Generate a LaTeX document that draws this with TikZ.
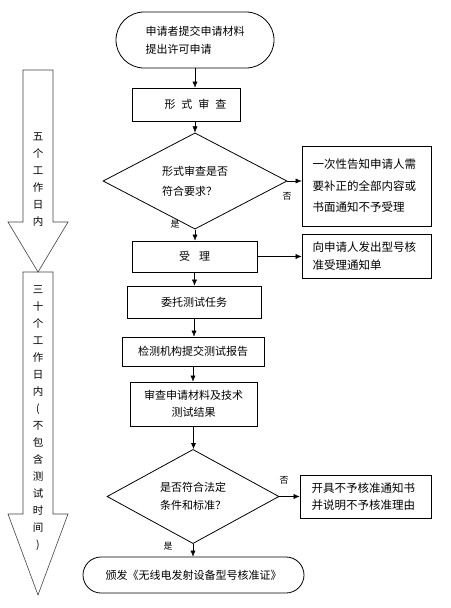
\documentclass[tikz,border=0pt]{standalone}
\usepackage{fontspec}
\setmainfont{Noto Sans CJK SC}
\usetikzlibrary{shapes.geometric,shapes.misc,arrows.meta}

\begin{document}
\begin{tikzpicture}[
    x=1pt, y=-1pt,
    >={Latex[length=6pt,width=5pt]},
    every node/.style={font=\fontsize{11}{18}\selectfont},
    term/.style={rounded rectangle, draw, line width=0.8pt, inner sep=0pt},
    proc/.style={rectangle, draw, line width=0.8pt, inner sep=0pt},
    judge/.style={diamond, draw, line width=0.8pt, inner sep=0pt, align=left},
    note/.style={rectangle, draw, line width=0.8pt, inner xsep=10.5pt, inner ysep=0pt, text width=108pt, align=left},
    lbl/.style={font=\fontsize{9}{9}\selectfont, inner sep=0pt},
    days/.style={draw=black!75, line width=0.6pt},
    vtext/.style={align=center, inner sep=0pt, font=\fontsize{10.5}{17}\selectfont},
]
\useasboundingbox (0,0) rectangle (450,608);

% 左侧：时限箭头
\draw[days] (23,70) -- (53,70) -- (53,222) -- (68,222) -- (38,272) -- (8,222) -- (23,222) -- cycle;
\node[vtext] (five) at (38,179.5) {五\\个\\工\\作\\日\\内};
\draw[days] (23,272) -- (53,272) -- (53,514) -- (68,514) -- (38,595) -- (8,514) -- (23,514) -- cycle;
\node[vtext] (thirty) at (38,418.5) {三\\十\\个\\工\\作\\日\\内\\(\\不\\包\\含\\测\\试\\时\\间\\)};

% 申请与形式审查
\node[term, minimum width=158pt, minimum height=56pt, align=left] (start) at (195,40) {申请者提交申请材料\\提出许可申请};
\node[proc, minimum width=108pt, minimum height=33pt] (check) at (186,104.5) {};
\node (checktext) at (195.5,104.5) {形\hspace{6pt}式\hspace{6pt}审\hspace{6pt}查};
\node[judge, minimum width=184pt, minimum height=78pt, font=\fontsize{11}{20}\selectfont] (d1) at (195,181) {形式审查是否\\符合要求？};
\node[note, minimum width=129pt, minimum height=80pt, font=\fontsize{11.5}{21.5}\selectfont] (notice) at (366.5,186) {一次性告知申请人需\\要补正的全部内容或\\书面通知不予受理};

% 受理与测试
\node[proc, minimum width=125pt, minimum height=31pt] (accept) at (194.5,256.5) {受\hspace{9pt}理};
\node[note, minimum width=129pt, minimum height=44pt, font=\fontsize{11.5}{18}\selectfont] (receipt) at (366.5,256) {向申请人发出型号核\\准受理通知单};
\node[proc, minimum width=134pt, minimum height=32pt] (task) at (194,302) {委托测试任务};
\node[proc, minimum width=142pt, minimum height=29pt] (report) at (193,351.5) {检测机构提交测试报告};
\node[proc, minimum width=127pt, minimum height=44pt, align=center, font=\fontsize{11}{17.5}\selectfont] (review) at (193.5,404) {审查申请材料及技术\\测试结果};

% 核准判断
\node[judge, minimum width=172pt, minimum height=89pt, font=\fontsize{11}{18}\selectfont] (d2) at (193,496.5) {是否符合法定\\条件和标准？};
\node[note, minimum width=131pt, minimum height=43pt, font=\fontsize{11.5}{17.5}\selectfont] (refuse) at (365.5,496.5) {开具不予核准通知书\\并说明不予核准理由};
\node[term, minimum width=221pt, minimum height=36pt] (cert) at (193.5,575) {颁发《无线电发射设备型号核准证》};

% 是/否标注
\node[lbl] (yes1) at (175,224) {是};
\node[lbl] (no1) at (287,196) {否};
\node[lbl] (no2) at (284,480) {否};
\node[lbl] (yes2) at (168,546) {是};

% 连线
\draw[->] (start.south) -- (start.south |- check.north);
\draw[->] (d1.north |- check.south) -- (d1.north);
\draw[->] (d1.east) -- (d1.east -| notice.west);
\draw[->] (d1.south) -- (d1.south |- accept.north);
\draw[->] (accept.east) -- (accept.east -| receipt.west);
\draw[->] (accept.south) -- (accept.south |- task.north);
\draw[->] (task.south) -- (task.south |- report.north);
\draw[->] (report.south) -- (report.south |- review.north);
\draw[->] (review.south) -- (review.south |- d2.north);
\draw[->] (d2.east) -- (d2.east -| refuse.west);
\draw[->] (d2.south) -- (d2.south |- cert.north);

\end{tikzpicture}
\end{document}
